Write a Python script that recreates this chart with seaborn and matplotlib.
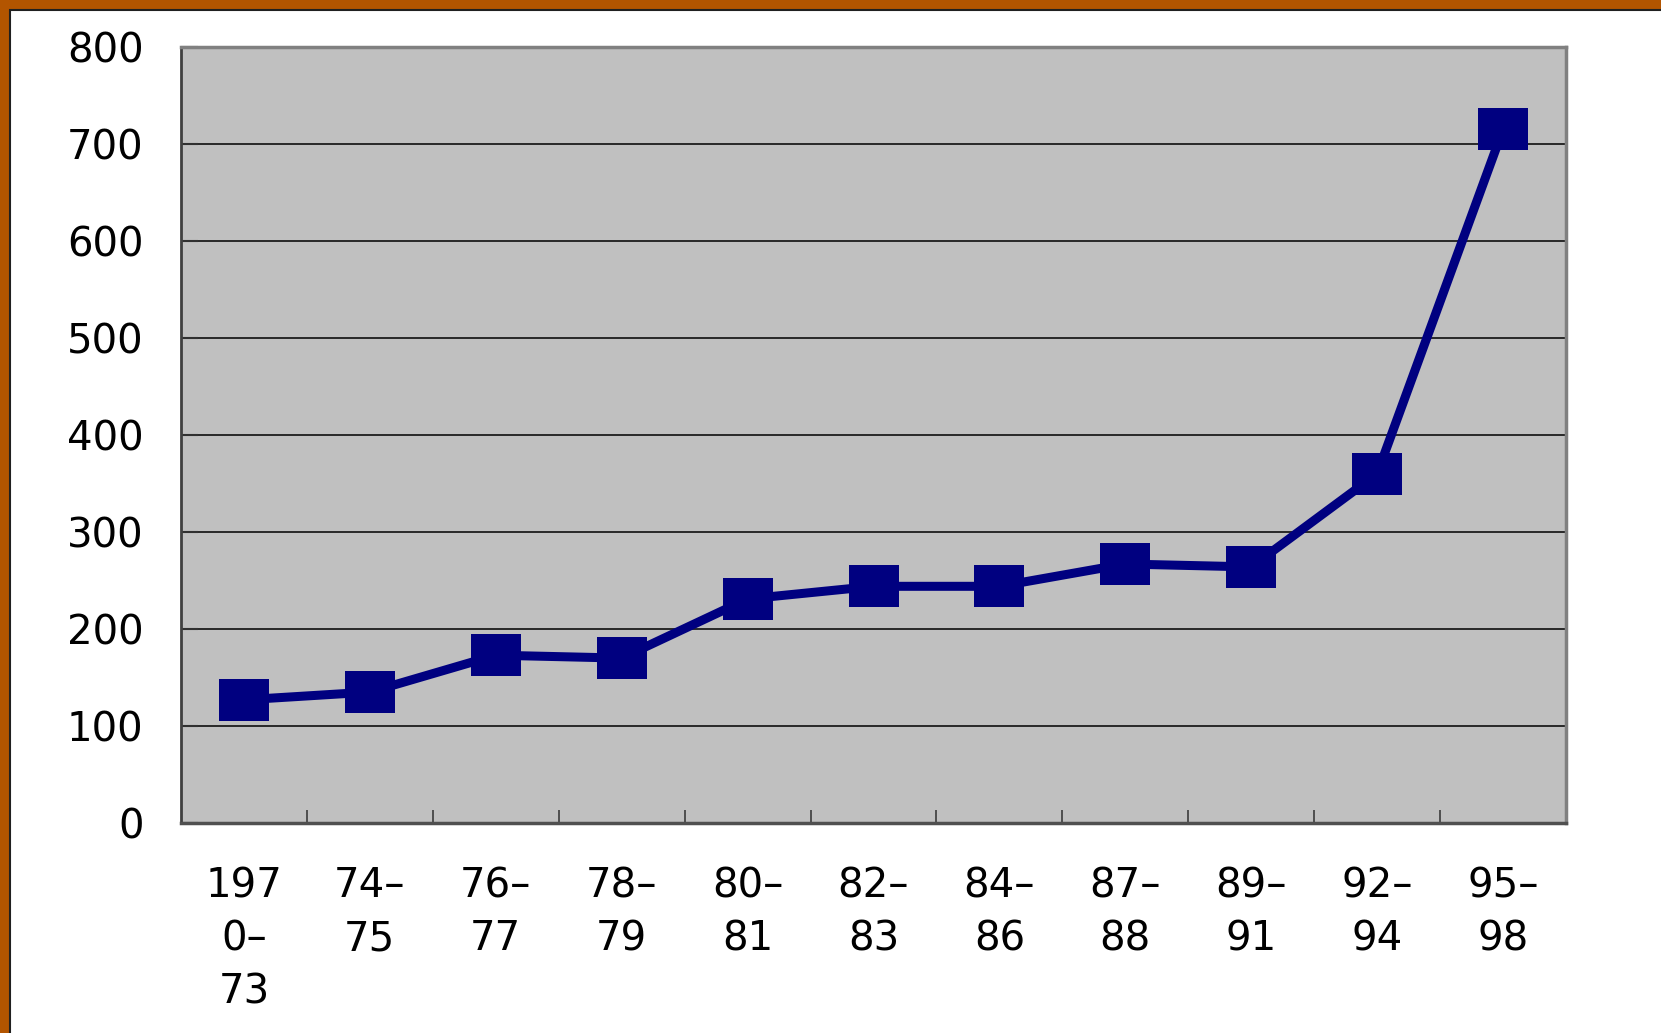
import matplotlib
matplotlib.use("Agg")
import matplotlib.pyplot as plt
from matplotlib.patches import Rectangle
import seaborn as sns
import pandas as pd

# ---- data ----
periods = ["197\n0–\n73", "74–\n75", "76–\n77", "78–\n79", "80–\n81", "82–\n83",
           "84–\n86", "87–\n88", "89–\n91", "92–\n94", "95–\n98"]
values = [127, 135, 173, 170, 231, 244, 244, 267, 264, 360, 715]
y_ticks = [0, 100, 200, 300, 400, 500, 600, 700, 800]

sns.set_style("white")
plt.rcParams["font.family"] = ["DejaVu Sans"]

W, H = 1661, 1033
fig = plt.figure(figsize=(W / 100, H / 100), dpi=100)
fig.patch.set_facecolor("#b35500")

# white slide area with dark edge
fig.add_artist(Rectangle((10 / W, -0.01), 1.02, 1 - 9.5 / H + 0.01,
                         transform=fig.transFigure, facecolor="white",
                         edgecolor="#202020", linewidth=1.5, zorder=0))

ax = fig.add_axes([181 / W, 1 - 823 / H, (1566 - 181) / W, (823 - 47) / H])
ax.set_facecolor("#c0c0c0")

df = pd.DataFrame({"period": periods, "value": values})
rect = [(-0.6, -0.5), (0.6, -0.5), (0.6, 0.5), (-0.6, 0.5), (-0.6, -0.5)]
sns.lineplot(data=df, x="period", y="value", ax=ax, color="#000080",
             linewidth=6.5, marker=rect, markersize=35.5, markeredgewidth=0,
             sort=False, zorder=5, clip_on=False)

ax.set_xlim(-0.5, len(periods) - 0.5)
ax.set_ylim(0, 800)
ax.set_yticks(y_ticks)
ax.set_yticklabels([str(v) for v in y_ticks])
ax.set_xticks(range(len(periods)))
ax.set_xticklabels(periods, linespacing=1.42)
ax.set_xticks([i + 0.5 for i in range(len(periods) - 1)], minor=True)
ax.set_xlabel("")
ax.set_ylabel("")

ax.yaxis.grid(True, color="black", linewidth=1.1)
ax.set_axisbelow(True)

ax.tick_params(axis="x", which="major", length=0, pad=31, labelsize=29, labelcolor="black")
ax.tick_params(axis="x", which="minor", direction="in", length=9.5, width=1.1,
               color="#303030", bottom=True)
ax.tick_params(axis="y", which="major", direction="in", length=12, width=1.5,
               color="#303030", pad=27, labelsize=29, labelcolor="black", left=True)

ax.spines["left"].set_color("#404040")
ax.spines["left"].set_linewidth(2)
ax.spines["bottom"].set_color("#505050")
ax.spines["bottom"].set_linewidth(2.5)
for s in ("top", "right"):
    ax.spines[s].set_color("#808080")
    ax.spines[s].set_linewidth(2.5)
    ax.spines[s].set_visible(True)

fig.savefig("out.png", dpi=100, facecolor=fig.get_facecolor())
